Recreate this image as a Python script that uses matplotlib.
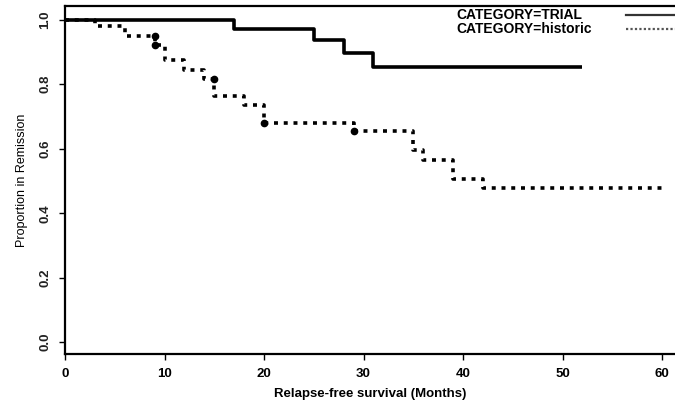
import numpy as np
import matplotlib.pyplot as plt

# Kaplan-Meier step data
trial_t = [0, 17, 25, 28, 31, 52]
trial_s = [1.0, 0.971, 0.937, 0.897, 0.853, 0.853]

hist_t = [0, 3, 6, 9, 10, 12, 14, 15, 18, 20, 29, 35, 36, 39, 42, 60]
hist_s = [1.0, 0.981, 0.950, 0.922, 0.874, 0.845, 0.816, 0.765, 0.736,
          0.681, 0.654, 0.596, 0.565, 0.506, 0.477, 0.477]

cens_t = [9, 9, 15, 20, 29]
cens_s = [0.950, 0.922, 0.816, 0.681, 0.654]

xticks = [0, 10, 20, 30, 40, 50, 60]
yticks = [0.0, 0.2, 0.4, 0.6, 0.8, 1.0]

plt.rcParams['font.family'] = ['Liberation Sans', 'DejaVu Sans']

fig = plt.figure(figsize=(6.75, 4.07), dpi=100)
ax = fig.add_axes([65/675, 1-354/407, 1-65/675, (354-6)/407])

# historic first so the trial line covers it at 1.0
ax.step(hist_t, hist_s, where='post', color='black', lw=2.6,
        linestyle=(0, (1.1, 1.6)), dash_capstyle='butt')
ax.plot(cens_t, cens_s, 'o', color='black', ms=4.5)
ax.step(trial_t, trial_s, where='post', color='black', lw=2.6, solid_capstyle='butt')

ax.set_xlim(0, (675-65)/9.95)
ax.set_ylim(-0.037, 1.043)
ax.spines['right'].set_visible(False)
for s in ['left', 'bottom', 'top']:
    ax.spines[s].set_linewidth(1.6)

ax.set_xticks(xticks)
ax.set_xticklabels([str(v) for v in xticks], fontweight='bold', fontsize=9.5)
ax.set_yticks(yticks)
ax.set_yticklabels(['%.1f' % v for v in yticks], rotation=90, va='center',
                   fontweight='bold', fontsize=9.5, color='#222222')
ax.tick_params(length=4, width=1.0, pad=6)

ax.set_xlabel('Relapse-free survival (Months)', fontweight='bold', fontsize=9.5, labelpad=6)
ax.set_ylabel('Proportion in Remission', fontsize=9, labelpad=8)

# legend in R style
ax.text(0.641, 0.973, 'CATEGORY=TRIAL', transform=ax.transAxes, fontweight='bold',
        fontsize=10, va='center', ha='left')
ax.text(0.641, 0.935, 'CATEGORY=historic', transform=ax.transAxes, fontweight='bold',
        fontsize=10, va='center', ha='left')
ax.plot([0.920, 1.0], [0.973, 0.973], transform=ax.transAxes, color='#333333', lw=1.6,
        clip_on=False)
ax.plot([0.920, 1.0], [0.935, 0.935], transform=ax.transAxes, color='#555555', lw=1.6,
        linestyle=(0, (1, 1)), clip_on=False)

fig.savefig('out.png', dpi=100)
